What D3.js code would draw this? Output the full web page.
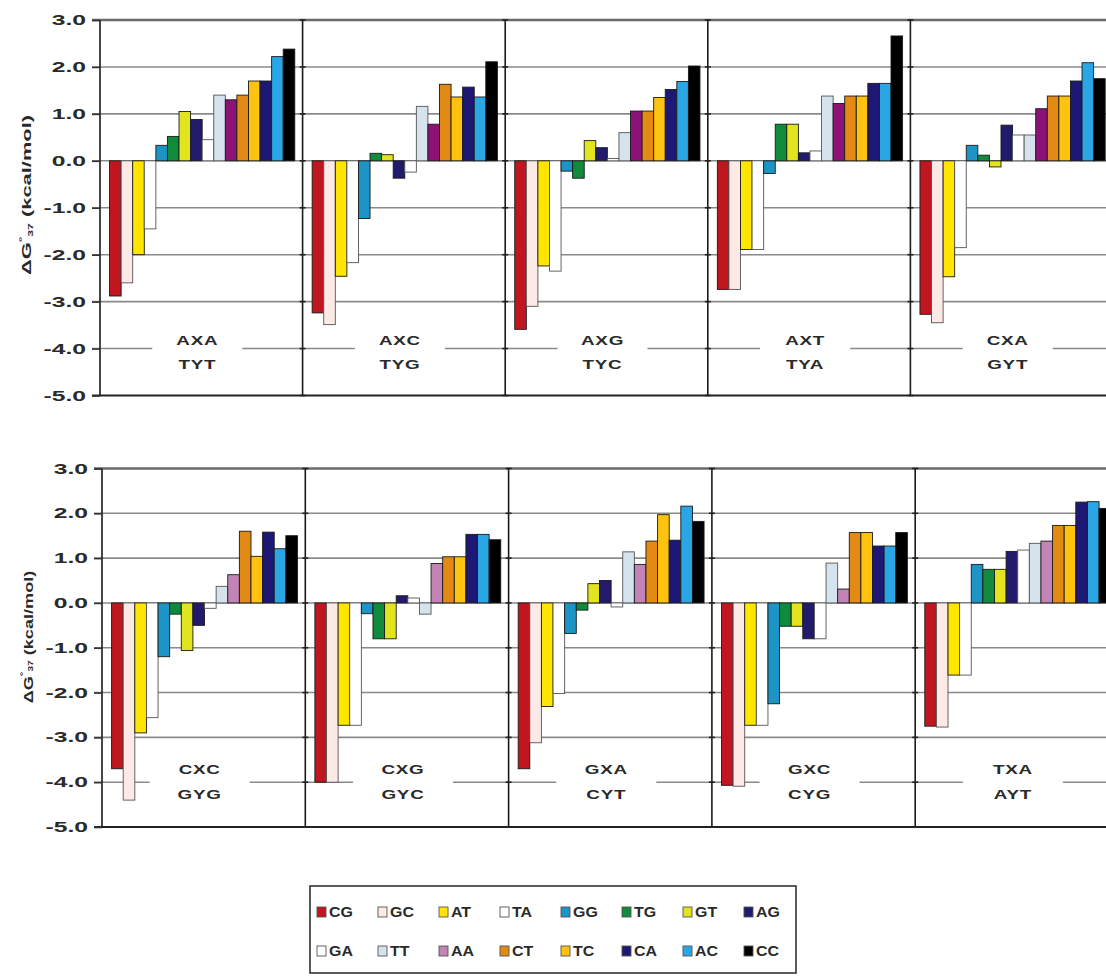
<!DOCTYPE html>
<html><head><meta charset="utf-8">
<script src="https://cdn.jsdelivr.net/npm/d3@7"></script>
<style>body{margin:0;background:#fff}svg{display:block}</style>
</head><body>
<svg id="c" width="1106" height="978"></svg>
<script>
// ---- data ----
const series = ["CG","GC","AT","TA","GG","TG","GT","AG","GA","TT","AA","CT","TC","CA","AC","CC"];
const panelTopLine = ["AXA","AXC","AXG","AXT","CXA","CXC","CXG","GXA","GXC","TXA"];
const panelBottomLine = ["TYT","TYG","TYC","TYA","GYT","GYG","GYC","CYT","CYG","AYT"];
const yTicks = [3,2,1,0,-1,-2,-3,-4,-5];
const yTickLabels = ["3.0","2.0","1.0","0.0","-1.0","-2.0","-3.0","-4.0","-5.0"];

const vAXA = [-2.88,-2.60,-2.00,-1.45, 0.33, 0.52, 1.05, 0.88, 0.45, 1.40, 1.30, 1.40, 1.70, 1.70, 2.22, 2.38];
const vAXC = [-3.24,-3.49,-2.46,-2.17,-1.23, 0.16, 0.13,-0.37,-0.24, 1.16, 0.78, 1.63, 1.36, 1.57, 1.36, 2.11];
const vAXG = [-3.59,-3.10,-2.24,-2.35,-0.22,-0.37, 0.43, 0.28, 0.05, 0.60, 1.06, 1.06, 1.35, 1.52, 1.69, 2.02];
const vAXT = [-2.74,-2.74,-1.89,-1.89,-0.27, 0.78, 0.78, 0.17, 0.21, 1.38, 1.22, 1.38, 1.38, 1.65, 1.65, 2.66];
const vCXA = [-3.27,-3.45,-2.47,-1.85, 0.33, 0.12,-0.13, 0.76, 0.55, 0.55, 1.11, 1.38, 1.38, 1.70, 2.09, 1.75];
const vCXC = [-3.70,-4.40,-2.90,-2.56,-1.20,-0.25,-1.06,-0.50,-0.12, 0.37, 0.63, 1.60, 1.04, 1.58, 1.21, 1.50];
const vCXG = [-4.00,-4.00,-2.73,-2.73,-0.24,-0.80,-0.80, 0.16, 0.11,-0.25, 0.88, 1.03, 1.03, 1.53, 1.53, 1.41];
const vGXA = [-3.70,-3.12,-2.31,-2.02,-0.68,-0.16, 0.43, 0.50,-0.09, 1.14, 0.86, 1.38, 1.97, 1.40, 2.16, 1.82];
const vGXC = [-4.07,-4.09,-2.73,-2.73,-2.25,-0.52,-0.52,-0.80,-0.80, 0.89, 0.31, 1.57, 1.57, 1.27, 1.27, 1.57];
const vTXA = [-2.75,-2.77,-1.61,-1.61, 0.86, 0.75, 0.75, 1.15, 1.18, 1.33, 1.38, 1.73, 1.73, 2.25, 2.26, 2.11];
const panelValues = [vAXA, vAXC, vAXG, vAXT, vCXA, vCXC, vCXG, vGXA, vGXC, vTXA];

// ---- styles ----
const colors = ["#c0161f","#fde9e6","#ffe500","#ffffff","#1d94c6","#108a3b","#e2e41f","#221b6c",
                "#ffffff","#d4e3ec","#c283b6","#e38a14","#fec20f","#1c1874","#2aa6e4","#000000"];
const aaTopRowColor = "#8c1278";
const font = "'Liberation Sans', Arial, sans-serif";
const txtColor = "#2a2a2a";

const rows = [
  {x0:100, pw:202.6, yTop:20,  yBot:395.5, gap:90,  l1:340, l2:364, tx:27, ty:195, tlen:1.75},
  {x0:102, pw:203.3, yTop:468.5, yBot:827, gap:100, l1:769, l2:794, tx:28, ty:637, tlen:1.45}
];

const svg = d3.select("#c");

function wideText(g, x, y, str, size, sx, anchor) {
  return g.append("text")
    .attr("transform", `translate(${x},${y}) scale(${sx},1)`)
    .attr("text-anchor", anchor || "middle")
    .attr("dominant-baseline", "central")
    .attr("font-family", font).attr("font-weight", "bold")
    .attr("font-size", size).attr("fill", txtColor)
    .text(str);
}

rows.forEach((r, ri) => {
  const g = svg.append("g");
  const y = d3.scaleLinear().domain([-5, 3]).range([r.yBot, r.yTop]);
  const xEnd = r.x0 + 5 * r.pw;

  // gridlines
  g.selectAll("line.grid").data(yTicks.filter(t => t !== 3 && t !== -5)).join("line")
    .attr("x1", r.x0 - 8).attr("x2", xEnd)
    .attr("y1", d => y(d)).attr("y2", d => y(d))
    .attr("stroke", "#8a8a8a").attr("stroke-width", 1.6);

  for (let p = 0; p < 5; p++) {
    const idx = ri * 5 + p;
    const px = r.x0 + p * r.pw;
    const cx = px + r.pw / 2 - 4;
    g.append("rect").attr("x", cx - r.gap / 2).attr("width", r.gap)
      .attr("y", y(-4) - 3).attr("height", 6).attr("fill", "#fff");

    const x = d3.scaleBand().domain(series).range([px, px + r.pw])
      .paddingInner(0).paddingOuter(0.75).align(0.55);
    const vals = panelValues[idx];
    g.append("g").selectAll("rect").data(series).join("rect")
      .attr("x", s => x(s)).attr("width", x.bandwidth())
      .attr("y", (s, i) => y(Math.max(0, vals[i])))
      .attr("height", (s, i) => Math.abs(y(vals[i]) - y(0)))
      .attr("fill", (s, i) => (ri === 0 && s === "AA") ? aaTopRowColor : colors[i])
      .attr("stroke", (s, i) => (colors[i] === "#ffffff" || s === "GC" || s === "TT") ? "#555" : "#1a1a1a")
      .attr("stroke-width", 0.9);

    wideText(g, cx, r.l1, panelTopLine[idx], 13, 1.45, "middle").attr("letter-spacing", 0.5);
    wideText(g, cx, r.l2, panelBottomLine[idx], 13, 1.45, "middle").attr("letter-spacing", 0.5);
  }

  g.append("line").attr("x1", r.x0 - 8).attr("x2", xEnd).attr("y1", y(3)).attr("y2", y(3))
    .attr("stroke", "#6a6a6a").attr("stroke-width", 2.6);
  g.append("line").attr("x1", r.x0 - 8).attr("x2", xEnd).attr("y1", y(-5)).attr("y2", y(-5))
    .attr("stroke", "#222").attr("stroke-width", 2);
  d3.range(6).forEach(k => {
    const xx = r.x0 + k * r.pw;
    g.append("line").attr("x1", xx).attr("x2", xx).attr("y1", y(3)).attr("y2", y(-5))
      .attr("stroke", "#1a1a1a").attr("stroke-width", 1.6);
    if (k > 0) {
      g.selectAll(null).data(yTicks).join("line")
        .attr("x1", xx - 3).attr("x2", xx + 3).attr("y1", d => y(d)).attr("y2", d => y(d))
        .attr("stroke", "#222").attr("stroke-width", 1.6);
    }
  });
  const axisG = g.append("g").attr("transform", `translate(${r.x0},0)`)
    .call(d3.axisLeft(y).tickValues(yTicks).tickSize(8).tickFormat(""));
  axisG.select(".domain").remove();
  axisG.selectAll(".tick line").attr("stroke", "#333").attr("stroke-width", 1.6);
  yTicks.forEach((t, i) => {
    wideText(g, r.x0 - 14, y(t), yTickLabels[i], 14.5, 1.7, "end");
  });

  const tt = g.append("text")
    .attr("transform", `translate(${r.tx},${r.ty}) rotate(-90) scale(${r.tlen},1)`)
    .attr("text-anchor", "middle").attr("dominant-baseline", "central")
    .attr("font-family", font).attr("font-weight", "bold").attr("font-size", 12.5)
    .attr("fill", txtColor);
  tt.append("tspan").text("ΔG");
  tt.append("tspan").attr("font-size", 8).attr("dy", -5).text("°");
  tt.append("tspan").attr("font-size", 7).attr("dy", 8).text("37");
  tt.append("tspan").attr("dy", -3).text(" (kcal/mol)");
});

// ---- legend ----
const lg = svg.append("g");
lg.append("rect").attr("x", 310).attr("y", 886).attr("width", 486).attr("height", 87)
  .attr("fill", "#fff").attr("stroke", "#333").attr("stroke-width", 1.6);
const legX = d3.scaleLinear().domain([0, 8]).range([317, 317 + 8 * 61]);
const legRowY = [912, 951];
series.forEach((s, i) => {
  const col = i % 8, row = Math.floor(i / 8);
  const x = legX(col), yc = legRowY[row];
  lg.append("rect").attr("x", x).attr("y", yc - 5).attr("width", 9).attr("height", 10)
    .attr("fill", colors[i]).attr("stroke", "#555").attr("stroke-width", 0.9);
  wideText(lg, x + 12, yc, s, 14.5, 1.1, "start");
});
</script>
</body></html>
